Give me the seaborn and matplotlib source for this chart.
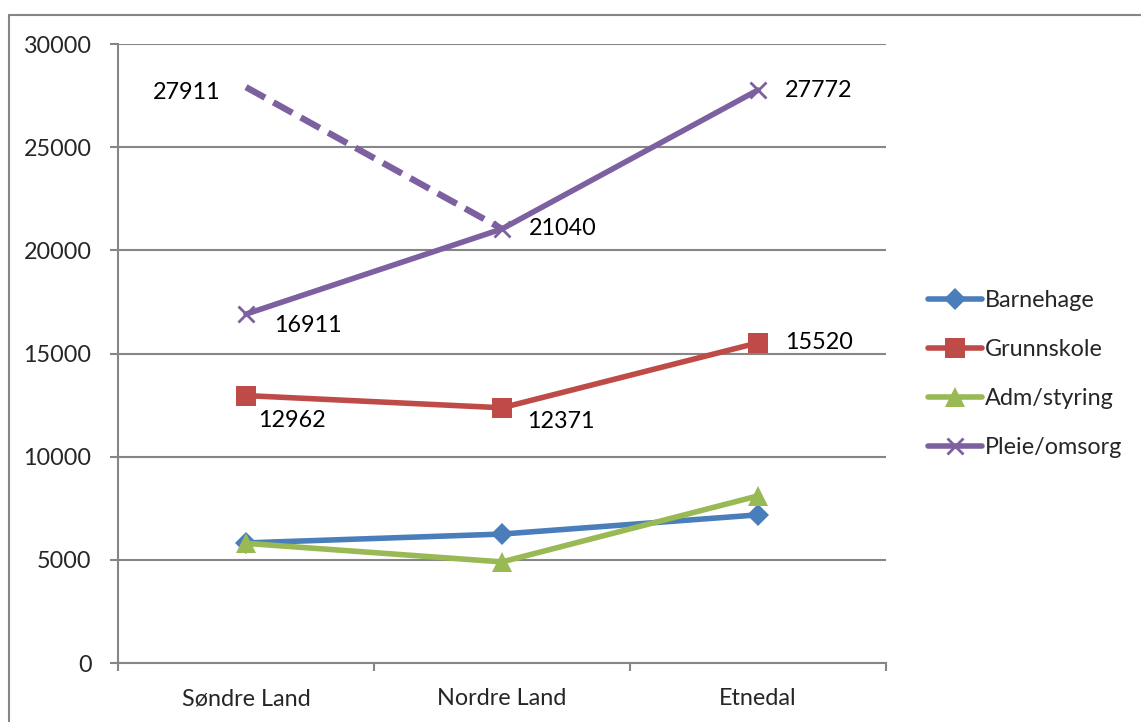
import pandas as pd
import seaborn as sns
import matplotlib.pyplot as plt
from matplotlib.lines import Line2D
from matplotlib.ticker import FixedLocator

kommuner = ['Søndre Land', 'Nordre Land', 'Etnedal']
barnehage = [5820, 6250, 7180]
grunnskole = [12962, 12371, 15520]
adm_styring = [5800, 4900, 8100]
pleie_omsorg = [16911, 21040, 27772]
pleie_alt = [27911, 21040]  # dashed line, not in legend

series = [
    {'name': 'Barnehage', 'values': barnehage, 'color': '#4A7EBB', 'marker': 'D', 'ms': 11},
    {'name': 'Grunnskole', 'values': grunnskole, 'color': '#BE4B48', 'marker': 's', 'ms': 14},
    {'name': 'Adm/styring', 'values': adm_styring, 'color': '#98B954', 'marker': '^', 'ms': 15},
    {'name': 'Pleie/omsorg', 'values': pleie_omsorg, 'color': '#7D60A0', 'marker': 'x', 'ms': 12},
]

GRID = '#868686'

sns.set_theme(style='white')
plt.rcParams['font.family'] = ['Lato', 'DejaVu Sans']

fig = plt.figure(figsize=(11.41, 7.22), dpi=100)
ax = fig.add_axes([0.1034, 0.0817, 0.6731, 0.8573])

for s in series:
    df = pd.DataFrame({'kommune': kommuner, 'value': s['values']})
    sns.lineplot(data=df, x='kommune', y='value', ax=ax, color=s['color'],
                 marker=s['marker'], markersize=s['ms'], markeredgewidth=2 if s['marker'] == 'x' else 0,
                 markeredgecolor=s['color'], linewidth=4.0, label=s['name'], sort=False)

df_alt = pd.DataFrame({'kommune': kommuner[:2], 'value': pleie_alt})
sns.lineplot(data=df_alt, x='kommune', y='value', ax=ax, color='#7D60A0', linewidth=4.6,
             linestyle=(0, (3.4, 1.5)), legend=False, sort=False)

# data labels
fs = 16.8
def label(i, v, dx, dy, ha='left'):
    ax.annotate(str(v), (i, v), xytext=(dx * 0.72, -dy * 0.72), textcoords='offset points',
                ha=ha, va='center', fontsize=fs, color='black')

label(0, pleie_omsorg[0], 28, 11)
label(1, pleie_omsorg[1], 27, 0)
label(2, pleie_omsorg[2], 27, 0)
label(0, pleie_alt[0], -25, 5, ha='right')
label(0, grunnskole[0], 12, 25)
label(1, grunnskole[1], 25, 14)
label(2, grunnskole[2], 27, 0)

ax.set_xlim(-0.5, 2.5)
ax.set_ylim(0, 30000)
ax.set_yticks(range(0, 30001, 5000))
ax.yaxis.grid(True, color=GRID, linewidth=1.5)
ax.set_axisbelow(True)
ax.set_xlabel('')
ax.set_ylabel('')

ax.xaxis.set_minor_locator(FixedLocator([-0.5, 0.5, 1.5, 2.5]))
ax.tick_params(axis='x', which='major', length=0, pad=18, labelsize=fs)
ax.tick_params(axis='x', which='minor', length=6, width=1.5, color=GRID, direction='out', bottom=True)
ax.tick_params(axis='y', length=6, width=1.5, color=GRID, direction='out', left=True, pad=13, labelsize=fs)

for side in ['top', 'right']:
    ax.spines[side].set_visible(False)
for side in ['left', 'bottom']:
    ax.spines[side].set_color(GRID)
    ax.spines[side].set_linewidth(1.5)

ax.legend(loc='center left', bbox_to_anchor=(0.803, 0.482), bbox_transform=fig.transFigure,
          frameon=False, fontsize=fs, handlelength=2.3, handletextpad=0.15, labelspacing=1.2,
          borderpad=0)

# outer chart border (top and left only visible)
fig.add_artist(Line2D([0.0079, 1.0], [0.979, 0.979], transform=fig.transFigure, color=GRID, linewidth=1.5))
fig.add_artist(Line2D([0.0079, 0.0079], [0.0, 0.979], transform=fig.transFigure, color=GRID, linewidth=1.5))

fig.savefig('out.png', dpi=100, facecolor='white')
